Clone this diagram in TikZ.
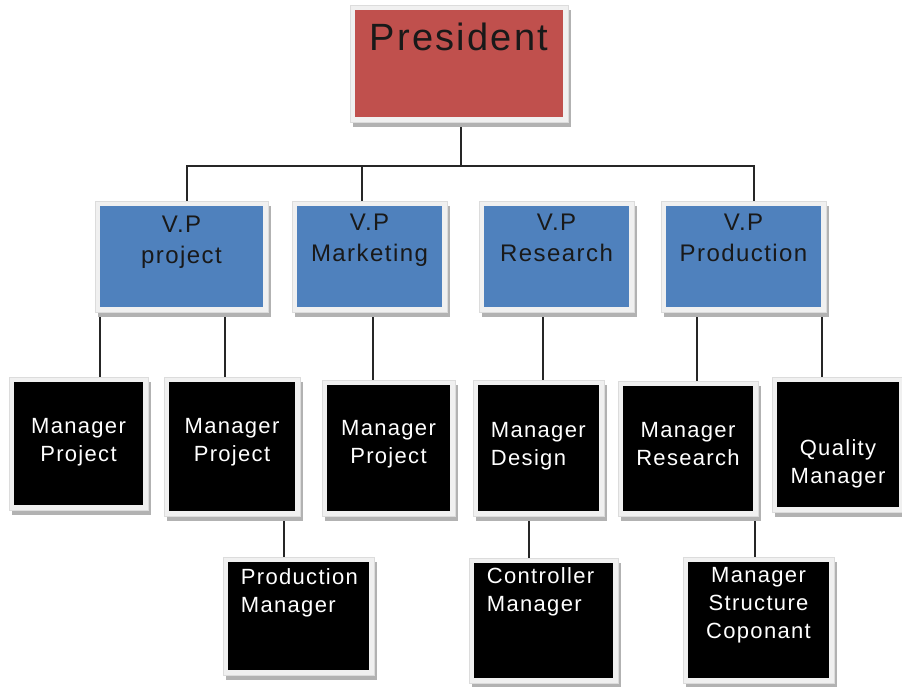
\documentclass[tikz,border=0pt]{standalone}
\usepackage{fontspec}
\setmainfont{Liberation Sans}
\newfontfamily\boxfont[LetterSpace=6]{Liberation Sans}
\usetikzlibrary{positioning,shadows}

\definecolor{presred}{HTML}{C0504D}
\definecolor{vpblue}{HTML}{4F81BD}
\definecolor{frame}{HTML}{F0F0F0}
\definecolor{frameedge}{HTML}{DCDCDC}

\pgfdeclarelayer{background}
\pgfsetlayers{background,main}

\tikzset{
	post/.style={rectangle, fill=frame, draw=frameedge, line width=.5pt, inner sep=0pt,
		drop shadow={shadow xshift=3pt, shadow yshift=-5pt, fill=black!30, opacity=1},
		path picture={\fill[#1] ([shift={(5pt,5pt)}]path picture bounding box.south west)
			rectangle ([shift={(-5pt,-5pt)}]path picture bounding box.north east);}},
	head/.style={inner sep=0pt, text=black!90, font=\boxfont\fontsize{38}{42}\selectfont},
	vplbl/.style={inner sep=0pt, align=center, text=black!90, font=\boxfont\fontsize{24}{31}\selectfont},
	mlbl/.style={inner sep=0pt, align=center, text=white, font=\boxfont\fontsize{22}{28}\selectfont},
	link/.style={draw=black!85, line width=1.4pt}
}

\begin{document}
\begin{tikzpicture}[x=1pt, y=-1pt]
	\useasboundingbox (0,0) rectangle (902,686);

	% president
	\node[post=presred, minimum width=218pt, minimum height=117pt] (pres) at (459,63.5) {};
	\node[head, below=18pt of pres.north] (pres-t) {President};

	% vice presidents
	\node[post=vpblue, minimum width=173pt, minimum height=111pt] (vpproj) at (181.5,256.5) {};
	\node[post=vpblue, minimum width=155pt, minimum height=111pt] (vpmkt) at (369.5,256.5) {};
	\node[post=vpblue, minimum width=155pt, minimum height=111pt] (vpres) at (556.5,256.5) {};
	\node[post=vpblue, minimum width=165pt, minimum height=111pt] (vpprod) at (743.5,256.5) {};
	\node[vplbl, below=15pt of vpproj.north] (vpproj-t) {V.P\\project};
	\node[vplbl, below=13pt of vpmkt.north] (vpmkt-t) {V.P\\Marketing};
	\node[vplbl, below=13pt of vpres.north] (vpres-t) {V.P\\Research};
	\node[vplbl, below=13pt of vpprod.north] (vpprod-t) {V.P\\Production};

	% managers
	\node[post=black, minimum width=139pt, minimum height=133pt] (mp1) at (78.5,443.5) {};
	\node[post=black, minimum width=136pt, minimum height=139pt] (mp2) at (232,446.5) {};
	\node[post=black, minimum width=133pt, minimum height=136pt] (mp3) at (388.5,448) {};
	\node[post=black, minimum width=131pt, minimum height=136pt] (mdes) at (538.5,448) {};
	\node[post=black, minimum width=140pt, minimum height=135pt] (mres) at (688,448.5) {};
	\node[post=black, minimum width=132pt, minimum height=135pt] (qual) at (838,444.5) {};
	\node[post=black, minimum width=151pt, minimum height=118pt] (prodmgr) at (298.5,616) {};
	\node[post=black, minimum width=149pt, minimum height=125pt] (ctrl) at (543.5,620.5) {};
	\node[post=black, minimum width=151pt, minimum height=126pt] (mstruct) at (758.5,620) {};

	\node[mlbl, below=41pt of mp1.north] (mp1-t) {Manager\\Project};
	\node[mlbl, below=41pt of mp2.north] (mp2-t) {Manager\\Project};
	\node[mlbl, below=40pt of mp3.north] (mp3-t) {Manager\\Project};
	\node[mlbl, align=left, below right=42pt and 18pt of mdes.north west] (mdes-t) {Manager\\Design};
	\node[mlbl, below=41pt of mres.north] (mres-t) {Manager\\Research};
	\node[mlbl, below=63pt of qual.north] (qual-t) {Quality\\Manager};
	\node[mlbl, align=left, below right=12pt and 18pt of prodmgr.north west] (prodmgr-t) {Production\\Manager};
	\node[mlbl, align=left, below right=10pt and 18pt of ctrl.north west] (ctrl-t) {Controller\\Manager};
	\node[mlbl, below=10pt of mstruct.north] (mstruct-t) {Manager\\Structure\\Coponant};

	% connectors, kept under the boxes
	\begin{pgfonlayer}{background}
		\coordinate (bus) at (461,166);
		\draw[link] ([xshift=2pt]pres.south) -- (bus);
		\draw[link] ([xshift=5.5pt]vpproj.north) |- (bus) -| ([xshift=10.5pt]vpprod.north);
		\draw[link] ([xshift=-7.5pt]vpmkt.north) -- ([xshift=-7.5pt]vpmkt.north |- bus);

		\draw[link] ([xshift=-81.5pt]vpproj.south) -- ([xshift=-81.5pt]vpproj.south |- mp1.north);
		\draw[link] ([xshift=-7pt]mp2.north) -- ([xshift=-7pt]mp2.north |- vpproj.south);
		\draw[link] ([xshift=-15.5pt]mp3.north) -- ([xshift=-15.5pt]mp3.north |- vpmkt.south);
		\draw[link] ([xshift=4.5pt]mdes.north) -- ([xshift=4.5pt]mdes.north |- vpres.south);
		\draw[link] ([xshift=9pt]mres.north) -- ([xshift=9pt]mres.north |- vpprod.south);
		\draw[link] ([xshift=-16pt]qual.north) -- ([xshift=-16pt]qual.north |- vpprod.south);

		\draw[link] ([xshift=-14.5pt]prodmgr.north) -- ([xshift=-14.5pt]prodmgr.north |- mp2.south);
		\draw[link] ([xshift=-14.5pt]ctrl.north) -- ([xshift=-14.5pt]ctrl.north |- mdes.south);
		\draw[link] ([xshift=-3.5pt]mstruct.north) -- ([xshift=-3.5pt]mstruct.north |- mres.south);
	\end{pgfonlayer}
\end{tikzpicture}
\end{document}
